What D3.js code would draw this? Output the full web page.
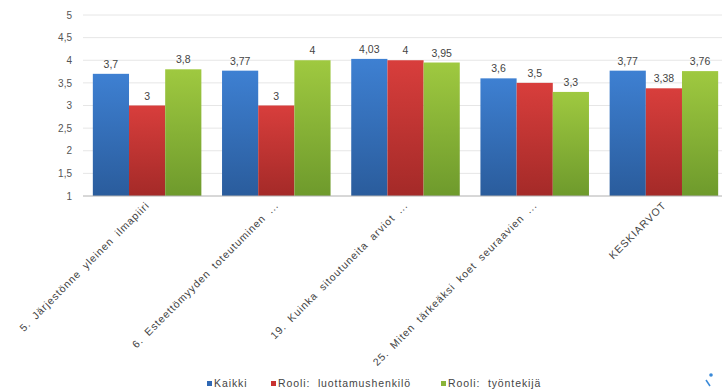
<!DOCTYPE html>
<html>
<head>
<meta charset="utf-8">
<script src="https://cdn.jsdelivr.net/npm/d3@7"></script>
<style>
  html, body { margin: 0; padding: 0; background: #fff; }
  svg { display: block; font-family: Arial, "Liberation Sans", sans-serif; }
</style>
</head>
<body>
<svg id="chart" width="722" height="391"></svg>
<script>
// Survey questions (x categories)
const categories = [
  "5. Järjestönne yleinen ilmapiiri",
  "6. Esteettömyyden toteutuminen ...",
  "19. Kuinka sitoutuneita arviot ...",
  "25. Miten tärkeäksi koet seuraavien ...",
  "KESKIARVOT"
];
// Respondent groups
const seriesNames = ["Kaikki", "Rooli:  luottamushenkilö", "Rooli:  työntekijä"];
const kaikki = [3.7, 3.77, 4.03, 3.6, 3.77];
const luottamushenkilo = [3, 3, 4, 3.5, 3.38];
const tyontekija = [3.8, 4, 3.95, 3.3, 3.76];
const seriesValues = [kaikki, luottamushenkilo, tyontekija];
const yTicks = [1, 1.5, 2, 2.5, 3, 3.5, 4, 4.5, 5];

const colors = [
  { top: "#3e80d2", bottom: "#2a5c9c", key: "#2f68b4" },
  { top: "#d83e3c", bottom: "#a42a28", key: "#c83230" },
  { top: "#9fc940", bottom: "#6e9a2c", key: "#8ab43a" }
];

const svg = d3.select("#chart");
const fmt = v => String(v).replace(".", ",");

const x0 = d3.scaleBand().domain(categories).range([82.5, 728.5])
  .paddingInner(0.16).paddingOuter(0.08);
const x1 = d3.scaleBand().domain(d3.range(seriesNames.length)).range([0, x0.bandwidth()]);
const y = d3.scaleLinear().domain([1, 5]).range([196, 15]);

// gradients for bars
const defs = svg.append("defs");
colors.forEach((c, i) => {
  const g = defs.append("linearGradient").attr("id", "grad" + i)
    .attr("x1", 0).attr("y1", 0).attr("x2", 0).attr("y2", 1);
  g.append("stop").attr("offset", "0%").attr("stop-color", c.top);
  g.append("stop").attr("offset", "100%").attr("stop-color", c.bottom);
});

// horizontal gridlines
svg.append("g").selectAll("line")
  .data(yTicks.filter(t => t > 1))
  .join("line")
  .attr("x1", 83).attr("x2", 722)
  .attr("y1", d => y(d)).attr("y2", d => y(d))
  .attr("stroke", "#e6e6e6").attr("stroke-width", 1);

// y axis labels
const yAxis = d3.axisLeft(y).tickValues(yTicks).tickSize(0).tickPadding(0)
  .tickFormat(fmt);
const yG = svg.append("g").attr("transform", "translate(72,0)").call(yAxis);
yG.select(".domain").remove();
yG.selectAll("text").attr("font-size", 10).attr("fill", "#555")
  .attr("font-family", "Arial, 'Liberation Sans', sans-serif");

// bars
const groups = svg.append("g").selectAll("g")
  .data(categories)
  .join("g")
  .attr("transform", d => `translate(${x0(d)},0)`);

groups.selectAll("rect")
  .data((d, ci) => seriesValues.map((s, si) => ({ si, v: s[ci] })))
  .join("rect")
  .attr("x", d => x1(d.si))
  .attr("width", x1.bandwidth())
  .attr("y", d => y(d.v))
  .attr("height", d => y(1) - y(d.v))
  .attr("fill", d => `url(#grad${d.si})`);

groups.selectAll("text.val")
  .data((d, ci) => seriesValues.map((s, si) => ({ si, v: s[ci] })))
  .join("text")
  .attr("class", "val")
  .attr("x", d => x1(d.si) + x1.bandwidth() / 2)
  .attr("y", d => y(d.v) - 6)
  .attr("text-anchor", "middle")
  .attr("font-size", 10.5)
  .attr("fill", "#444")
  .text(d => fmt(d.v));

// baseline
svg.append("line")
  .attr("x1", 83).attr("x2", 722)
  .attr("y1", y(1)).attr("y2", y(1))
  .attr("stroke", "#b0b0b0").attr("stroke-width", 1);

// rotated category labels
svg.append("g").selectAll("text")
  .data(categories)
  .join("text")
  .attr("transform", d => `translate(${x0(d) + x0.bandwidth() / 2 + 3},${206}) rotate(-45)`)
  .attr("text-anchor", "end")
  .attr("font-size", 10.5)
  .attr("letter-spacing", "0.9px")
  .attr("word-spacing", "3px")
  .attr("fill", "#444")
  .attr("xml:space", "preserve")
  .text(d => d);

// legend
const legendX = [207, 271, 441];
const legend = svg.append("g").selectAll("g")
  .data(seriesNames)
  .join("g")
  .attr("transform", (d, i) => `translate(${legendX[i]},387)`);
legend.append("rect").attr("x", 0).attr("y", -6).attr("width", 5).attr("height", 5)
  .attr("fill", (d, i) => colors[i].key);
legend.append("text").attr("x", 7).attr("y", 0)
  .attr("font-size", 10.5).attr("fill", "#444")
  .attr("letter-spacing", "0.9px")
  .attr("xml:space", "preserve")
  .text(d => d);

// small corner mark
svg.append("circle").attr("cx", 711).attr("cy", 375).attr("r", 1.8).attr("fill", "#3a8ad8");
svg.append("path").attr("d", "M706,380 L710,386")
  .attr("stroke", "#3a8ad8").attr("stroke-width", 1.5).attr("fill", "none");
</script>
</body>
</html>
